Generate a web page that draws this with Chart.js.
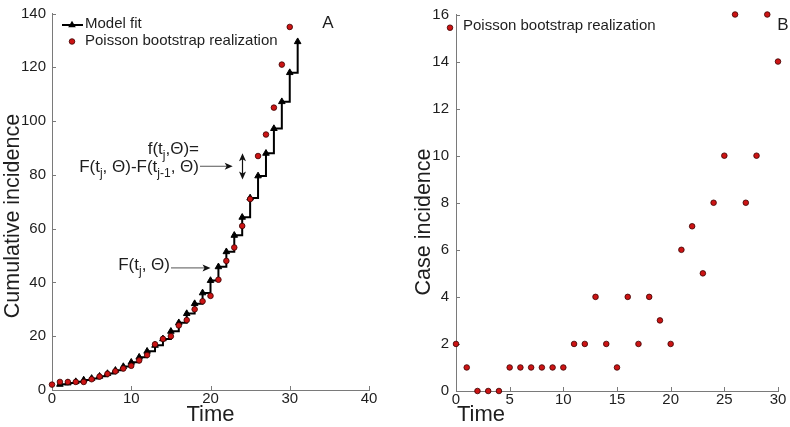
<!DOCTYPE html>
<html><head><meta charset="utf-8">
<script src="https://cdn.jsdelivr.net/npm/chart.js@4/dist/chart.umd.min.js"></script>
<style>
html,body{margin:0;padding:0;background:#fff;}
#wrap{position:relative;width:790px;height:427px;overflow:hidden;}
#cA{position:absolute;left:0;top:0;}
#cB{position:absolute;left:395px;top:0;}
</style></head><body>
<div id="wrap">
<canvas id="cA" width="395" height="427"></canvas>
<canvas id="cB" width="395" height="427"></canvas>
</div>
<script>
// ---- data ----
const obsTime = [0,1,2,3,4,5,6,7,8,9,10,11,12,13,14,15,16,17,18,19,20,21,22,23,24,25,26,27,28,29,30];
const caseIncidence = [2,1,0,0,0,1,1,1,1,1,1,2,2,4,2,1,4,2,4,3,2,6,7,5,8,10,16,8,10,16,14];
const cumulativeIncidence = [2,3,3,3,3,4,5,6,7,8,9,11,13,17,19,20,24,26,30,33,35,41,48,53,61,71,87,95,105,121,135];
const modelTime = [1,2,3,4,5,6,7,8,9,10,11,12,13,14,15,16,17,18,19,20,21,22,23,24,25,26,27,28,29,30,31];
const modelFit = [2.1,2.6,3.1,3.7,4.3,5.1,6.1,7.3,8.7,10.3,12.2,14.4,16.6,19.0,21.8,25.0,28.4,32.1,36.1,40.7,45.8,51.4,57.5,64.2,71.4,79.6,88.0,97.2,107.2,118.0,129.5];
const leftYTicks = [0,20,40,60,80,100,120,140];
const leftXTicks = [0,10,20,30,40];
const rightYTicks = [0,2,4,6,8,10,12,14,16];
const rightXTicks = [0,5,10,15,20,25,30];

const FONT = '"Liberation Sans", Arial, Helvetica, sans-serif';
const TXT = '#1e1e1e';
const AXIS = '#7a7a7a';
const RED = '#cc1414';

function pts(xs, ys){ return xs.map((x,i)=>({x:x, y:ys[i]})); }

const inwardTicks = {
  id:'inwardTicks',
  beforeDatasetsDraw(chart){
    const {ctx, chartArea:ca, scales:{x,y}} = chart;
    ctx.save(); ctx.strokeStyle=AXIS; ctx.lineWidth=1; ctx.beginPath();
    x.ticks.forEach(t=>{const px=Math.round(x.getPixelForValue(t.value))+0.5; ctx.moveTo(px, ca.bottom); ctx.lineTo(px, ca.bottom-4);});
    y.ticks.forEach(t=>{const py=Math.round(y.getPixelForValue(t.value))+0.5; ctx.moveTo(ca.left, py); ctx.lineTo(ca.left+4, py);});
    ctx.stroke(); ctx.restore();
  }
};

function drawRich(ctx, parts, x, base, align, size){
  const main = size+'px '+FONT, sub = Math.round(size*0.72)+'px '+FONT;
  let w=0;
  parts.forEach(p=>{ctx.font=p[1]?sub:main; w+=ctx.measureText(p[0]).width;});
  let cx = align==='right' ? x-w : (align==='center' ? x-w/2 : x);
  ctx.textAlign='left'; ctx.textBaseline='alphabetic'; ctx.fillStyle=TXT;
  parts.forEach(p=>{ctx.font=p[1]?sub:main; ctx.fillText(p[0], cx, base+(p[1]?size*0.32:0)); cx+=ctx.measureText(p[0]).width;});
}
function head(ctx, x, y, ang, len, hw){
  ctx.save(); ctx.translate(x,y); ctx.rotate(ang);
  ctx.beginPath(); ctx.moveTo(0,0); ctx.lineTo(-len,-hw); ctx.lineTo(-len*0.75,0); ctx.lineTo(-len,hw); ctx.closePath();
  ctx.fillStyle='#111'; ctx.fill(); ctx.restore();
}
function arrow(ctx, x1,y1,x2,y2){
  ctx.save(); ctx.strokeStyle='#555'; ctx.lineWidth=1;
  ctx.beginPath(); ctx.moveTo(x1,y1); ctx.lineTo(x2-4,y2); ctx.stroke(); ctx.restore();
  head(ctx, x2, y2, Math.atan2(y2-y1,x2-x1), 8, 3.5);
}
function tri(ctx,x,y,r){
  ctx.beginPath(); ctx.moveTo(x,y-r*1.15); ctx.lineTo(x+r,y+r*0.6); ctx.lineTo(x-r,y+r*0.6); ctx.closePath();
  ctx.fillStyle='#000'; ctx.fill();
}
function dot(ctx,x,y){
  ctx.beginPath(); ctx.arc(x,y,2.8,0,Math.PI*2); ctx.fillStyle=RED; ctx.fill();
  ctx.lineWidth=0.8; ctx.strokeStyle='#3a0000'; ctx.stroke();
}
function rotText(ctx, text, x, y, size){
  ctx.save(); ctx.translate(x,y); ctx.rotate(-Math.PI/2);
  ctx.font=size+'px '+FONT; ctx.fillStyle=TXT; ctx.textAlign='center'; ctx.textBaseline='middle';
  ctx.fillText(text,0,0); ctx.restore();
}

const decorA = {
  id:'decorA',
  afterDraw(chart){
    const {ctx, chartArea:ca, scales:{x,y}} = chart;
    ctx.save();
    // legend
    ctx.strokeStyle='#000'; ctx.lineWidth=2;
    ctx.beginPath(); ctx.moveTo(ca.left+10, 25); ctx.lineTo(ca.left+31, 25); ctx.stroke();
    tri(ctx, ca.left+20, 25, 3.8);
    dot(ctx, ca.left+20, 41.5);
    ctx.font='15px '+FONT; ctx.fillStyle=TXT; ctx.textAlign='left'; ctx.textBaseline='middle';
    ctx.fillText(chart.data.datasets[1].label, ca.left+33, 24);
    ctx.fillText(chart.data.datasets[0].label, ca.left+33, 41);
    // panel letter
    ctx.font='17px '+FONT; ctx.textAlign='center'; ctx.fillText('A', 328, 23);
    // axis titles
    rotText(ctx, 'Cumulative incidence', 13, 216, 21.5);
    ctx.font='22px '+FONT; ctx.fillStyle=TXT; ctx.textAlign='center'; ctx.textBaseline='middle';
    ctx.fillText('Time', (ca.left+ca.right)/2, 415);
    // annotations
    const fx2 = x.getPixelForValue(22.8), fy = y.getPixelForValue(83.2);
    drawRich(ctx, [['f(t'],['j',1],[',Θ)=']], 199, 154, 'right', 17);
    drawRich(ctx, [['F(t'],['j',1],[', Θ)-F(t'],['j-1',1],[', Θ)']], 199, 172, 'right', 17);
    arrow(ctx, 200, fy, fx2, fy);
    const dx = Math.round(x.getPixelForValue(24))+0.5, dTop = y.getPixelForValue(88), dBot = y.getPixelForValue(78.3);
    ctx.strokeStyle='#111'; ctx.lineWidth=1.2;
    ctx.beginPath(); ctx.moveTo(dx, dTop+4); ctx.lineTo(dx, dBot-4); ctx.stroke();
    head(ctx, dx, dTop, -Math.PI/2, 8, 3.5); head(ctx, dx, dBot, Math.PI/2, 8, 3.5);
    const Fx = x.getPixelForValue(20.0), Fy = y.getPixelForValue(45.4);
    drawRich(ctx, [['F(t'],['j',1],[', Θ)']], 170, 270, 'right', 17);
    arrow(ctx, 171, Fy, Fx, Fy);
    ctx.restore();
  }
};
const decorB = {
  id:'decorB',
  afterDraw(chart){
    const {ctx, chartArea:ca} = chart;
    ctx.save();
    dot(ctx, ca.left-6, 27.7);
    ctx.font='15px '+FONT; ctx.fillStyle=TXT; ctx.textAlign='left'; ctx.textBaseline='middle';
    ctx.fillText(chart.data.datasets[0].label, ca.left+7, 25.5);
    ctx.font='17px '+FONT; ctx.textAlign='center'; ctx.fillText('B', 388, 25.5);
    rotText(ctx, 'Case incidence', 29, 222, 21.5);
    ctx.font='22px '+FONT; ctx.fillStyle=TXT; ctx.textAlign='left'; ctx.textBaseline='middle';
    ctx.fillText('Time', ca.left+1, 415);
    ctx.restore();
  }
};

function axes(xmin,xmax,xticks,ymin,ymax,yticks,yw,xh,ypad){
  const tf = {size:15, family:FONT, lineHeight:1};
  return {
    x:{type:'linear', min:xmin, max:xmax,
       afterBuildTicks:s=>{s.ticks = xticks.map(v=>({value:v}));},
       ticks:{font:tf, color:TXT, padding:1, maxRotation:0, autoSkip:false},
       grid:{display:false, drawTicks:false}, border:{display:true, color:AXIS, width:1},
       afterFit:s=>{s.height=xh;}},
    y:{type:'linear', min:ymin, max:ymax,
       afterBuildTicks:s=>{s.ticks = yticks.map(v=>({value:v}));},
       ticks:{font:tf, color:TXT, padding:ypad, autoSkip:false},
       grid:{display:false, drawTicks:false}, border:{display:true, color:AXIS, width:1},
       afterFit:s=>{s.width=yw;}}
  };
}

new Chart(document.getElementById('cA'), {
  type:'scatter',
  data:{datasets:[
    {label:'Poisson bootstrap realization', data:pts(obsTime, cumulativeIncidence), pointRadius:2.8,
     pointBackgroundColor:RED, pointBorderColor:'#3a0000', pointBorderWidth:0.8, showLine:false, clip:false, order:0},
    {label:'Model fit', data:pts(modelTime, modelFit), showLine:true, stepped:'before',
     borderColor:'#000', borderWidth:2, pointStyle:'triangle', pointRadius:3.8,
     pointBackgroundColor:'#000', pointBorderColor:'#000', pointBorderWidth:1, clip:false, order:1}
  ]},
  options:{responsive:false, animation:false, devicePixelRatio:1, events:[],
    layout:{padding:{top:8, right:26, left:0, bottom:0}},
    plugins:{legend:{display:false}, tooltip:{enabled:false}},
    scales:axes(0,40,leftXTicks,0,140,leftYTicks,52,37,6)},
  plugins:[inwardTicks, decorA]
});

new Chart(document.getElementById('cB'), {
  type:'scatter',
  data:{datasets:[
    {label:'Poisson bootstrap realization', data:pts(obsTime, caseIncidence), pointRadius:2.8,
     pointBackgroundColor:RED, pointBorderColor:'#3a0000', pointBorderWidth:0.8, showLine:false, clip:false}
  ]},
  options:{responsive:false, animation:false, devicePixelRatio:1, events:[],
    layout:{padding:{top:8, right:12, left:0, bottom:0}},
    plugins:{legend:{display:false}, tooltip:{enabled:false}},
    scales:axes(0,30,rightXTicks,0,16,rightYTicks,61,36,7)},
  plugins:[inwardTicks, decorB]
});
</script>
</body></html>
